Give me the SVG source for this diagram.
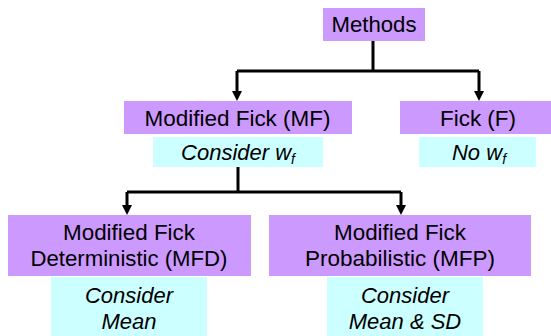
<svg xmlns="http://www.w3.org/2000/svg" width="551" height="336" viewBox="0 0 551 336">
<style>
.m{fill:#cc99ff}
.c{fill:#ccffff}
text{font-family:"Liberation Sans",Arial,sans-serif;font-size:22px;fill:#000;text-anchor:middle}
.i{font-style:italic}
.ln{fill:none;stroke:#000;stroke-width:3}
</style>
<g id="connectors">
<path class="ln" d="M373,41 V71"/>
<path class="ln" d="M237,71 H479"/>
<path class="ln" d="M237,71 V92"/>
<path class="ln" d="M479,71 V92"/>
<path d="M232,91 L242,91 L237,101 Z"/>
<path d="M474,91 L484,91 L479,101 Z"/>
<path class="ln" d="M238,167 V192"/>
<path class="ln" d="M127,192 H401"/>
<path class="ln" d="M127,192 V206"/>
<path class="ln" d="M401,192 V206"/>
<path d="M122,205 L132,205 L127,215 Z"/>
<path d="M396,205 L406,205 L401,215 Z"/>
</g>
<g id="methods">
<rect class="m" x="323" y="8" width="102" height="33"/>
<text x="374" y="32" textLength="85" lengthAdjust="spacingAndGlyphs">Methods</text>
</g>
<g id="mf">
<rect class="m" x="124" y="101" width="228" height="33"/>
<text x="237.5" y="125.5" textLength="186" lengthAdjust="spacingAndGlyphs">Modified Fick (MF)</text>
</g>
<g id="mf-note">
<rect class="c" x="153" y="137" width="170" height="30"/>
<text class="i" x="238" y="159.5">Consider <tspan>w</tspan><tspan font-size="14" dy="4">f</tspan></text>
</g>
<g id="f">
<rect class="m" x="400" y="101" width="151" height="33"/>
<text x="478" y="125.5" textLength="76" lengthAdjust="spacingAndGlyphs">Fick (F)</text>
</g>
<g id="f-note">
<rect class="c" x="419" y="137" width="117" height="30"/>
<text class="i" x="479" y="160">No <tspan>w</tspan><tspan font-size="14" dy="4">f</tspan></text>
</g>
<g id="mfd">
<rect class="m" x="8" y="215" width="243" height="61"/>
<text x="129" y="239.5" textLength="132" lengthAdjust="spacingAndGlyphs">Modified Fick</text>
<text x="129" y="266" textLength="197" lengthAdjust="spacingAndGlyphs">Deterministic (MFD)</text>
</g>
<g id="mfd-note">
<rect class="c" x="51" y="277" width="156" height="59"/>
<text class="i" x="129" y="302.5">Consider</text>
<text class="i" x="129" y="329">Mean</text>
</g>
<g id="mfp">
<rect class="m" x="269" y="215" width="262" height="61"/>
<text x="400" y="239.5" textLength="132" lengthAdjust="spacingAndGlyphs">Modified Fick</text>
<text x="400" y="266" textLength="190" lengthAdjust="spacingAndGlyphs">Probabilistic (MFP)</text>
</g>
<g id="mfp-note">
<rect class="c" x="327" y="277" width="156" height="59"/>
<text class="i" x="405" y="302.5">Consider</text>
<text class="i" x="405" y="329">Mean &amp; SD</text>
</g>
</svg>
